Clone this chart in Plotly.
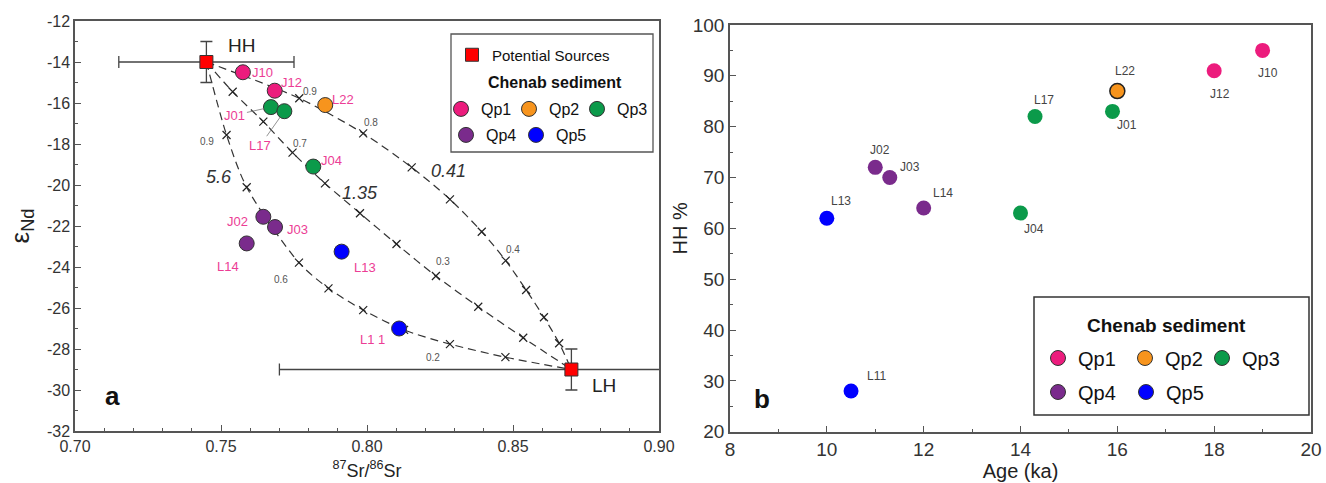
import plotly.graph_objects as go

# ---------------- data ----------------
groups = ["Qp1", "Qp2", "Qp3", "Qp4", "Qp5"]
group_colors = ["#ec1c7d", "#f7941d", "#0b9a4a", "#7a2b8c", "#0000ff"]

# potential sources (panel a)
src_names = ["HH", "LH"]
src_sr = [0.745, 0.870]
src_nd = [-14.0, -29.0]
src_sr_err = [0.03, 0.10]
src_nd_err = [1.0, 1.0]

# Chenab sediment samples
sample_ids = ["J10", "J12", "L22", "J01", "L17", "J04", "J02", "J03", "L14", "L13", "L11"]
sample_labels_a = ["J10", "J12", "L22", "J01", "L17", "J04", "J02", "J03", "L14", "L13", "L1 1"]
sample_group = ["Qp1", "Qp1", "Qp2", "Qp3", "Qp3", "Qp3", "Qp4", "Qp4", "Qp4", "Qp5", "Qp5"]
sample_sr = [0.7575, 0.7684, 0.7857, 0.7671, 0.7717, 0.7816, 0.7645, 0.7685, 0.7588, 0.7913, 0.8110]
sample_nd = [-14.5, -15.4, -16.1, -16.2, -16.4, -19.1, -21.55, -22.05, -22.85, -23.25, -27.0]
sample_age = [19.0, 18.0, 16.0, 15.9, 14.3, 14.0, 11.0, 11.3, 12.0, 10.0, 10.5]
sample_hh = [95, 91, 87, 83, 82, 63, 72, 70, 64, 62, 28]

# mixing hyperbolae (cross marks, 0.9 -> 0.1 HH fraction)
curve_k = ["0.41", "1.35", "5.6"]
curve041_sr = [0.7768, 0.7987, 0.8153, 0.8284, 0.8393, 0.8475, 0.8545, 0.8606, 0.8658]
curve041_nd = [-15.77, -17.48, -19.14, -20.70, -22.28, -23.69, -25.12, -26.45, -27.72]
curve135_sr = [0.7540, 0.7645, 0.7745, 0.7856, 0.7976, 0.8101, 0.8236, 0.8381, 0.8535]
curve135_nd = [-15.45, -16.91, -18.42, -19.92, -21.38, -22.88, -24.44, -25.94, -27.45]
curve56_sr = [0.7519, 0.7588, 0.7767, 0.7868, 0.7987, 0.8127, 0.8284, 0.8474]
curve56_nd = [-17.56, -20.11, -23.79, -25.04, -26.10, -27.07, -27.76, -28.40]

# fraction labels along curves
frac_text = ["0.9", "0.8", "0.4", "0.7", "0.3", "0.9", "0.6", "0.2"]
frac_sr = [0.7805, 0.8014, 0.8501, 0.7771, 0.8261, 0.7451, 0.7705, 0.8227]
frac_nd = [-15.45, -16.96, -23.14, -17.97, -23.74, -17.89, -24.60, -28.42]
k_sr = [0.8278, 0.7976, 0.7493]
k_nd = [-19.32, -20.40, -19.60]

# tick labels
a_xticks = [0.70, 0.75, 0.80, 0.85, 0.90]
a_xticktext = ["0.70", "0.75", "0.80", "0.85", "0.90"]
a_yticks = [-12, -14, -16, -18, -20, -22, -24, -26, -28, -30, -32]
a_yticktext = ["-12", "-14", "-16", "-18", "-20", "-22", "-24", "-26", "-28", "-30", "-32"]

legend_title = "Chenab sediment"

# ---------------- styling ----------------
FONT = "Liberation Sans, Arial, sans-serif"
AX = "#555555"
LABEL_PINK = "#ec3d95"
W, H = 1326, 483

fig = go.Figure()

# mixing curves
curves = [(curve041_sr, curve041_nd), (curve135_sr, curve135_nd), (curve56_sr, curve56_nd)]
for csr, cnd in curves:
    fig.add_trace(go.Scatter(
        x=[src_sr[0]] + csr + [src_sr[1]], y=[src_nd[0]] + cnd + [src_nd[1]],
        mode="lines", line=dict(color="#333333", width=1.2, dash="8px,5px", shape="spline", smoothing=0.8),
        showlegend=False, hoverinfo="skip", xaxis="x", yaxis="y"))
    fig.add_trace(go.Scatter(
        x=csr, y=cnd, mode="markers",
        marker=dict(symbol="x-thin", size=8, line=dict(color="#222222", width=1.2)),
        showlegend=False, hoverinfo="skip", xaxis="x", yaxis="y"))

# sources
fig.add_trace(go.Scatter(
    x=src_sr, y=src_nd, mode="markers", text=src_names,
    marker=dict(symbol="square", size=13, color="#ff0000", line=dict(color="#333333", width=1)),
    error_x=dict(type="data", array=src_sr_err, color="#444444", thickness=1.3, width=6),
    error_y=dict(type="data", array=src_nd_err, color="#444444", thickness=1.3, width=6),
    showlegend=False, xaxis="x", yaxis="y"))

# samples, panel a and b
for g, c in zip(groups, group_colors):
    idx = [i for i, sg in enumerate(sample_group) if sg == g]
    fig.add_trace(go.Scatter(
        x=[sample_sr[i] for i in idx], y=[sample_nd[i] for i in idx], mode="markers",
        marker=dict(size=15, color=c, line=dict(color="#333333", width=1)),
        text=[sample_ids[i] for i in idx], showlegend=False, xaxis="x", yaxis="y"))
    fig.add_trace(go.Scatter(
        x=[sample_age[i] for i in idx], y=[sample_hh[i] for i in idx], mode="markers",
        marker=dict(size=15, color=c,
                    line=dict(color="#222222", width=1.5 if g == "Qp2" else 0)),
        text=[sample_ids[i] for i in idx], showlegend=False, xaxis="x2", yaxis="y2"))

# legend entries
fig.add_trace(go.Scatter(
    x=[None], y=[None], mode="markers", name="Potential Sources", legend="legend",
    marker=dict(symbol="square", size=13, color="#ff0000", line=dict(color="#333333", width=1))))
rows_a = {"legend2": ["Qp1", "Qp2", "Qp3"], "legend3": ["Qp4", "Qp5"]}
rows_b = {"legend4": ["Qp1", "Qp2", "Qp3"], "legend5": ["Qp4", "Qp5"]}
w_a = {"Qp1": 23, "Qp2": 23, "Qp3": 35, "Qp4": 25, "Qp5": 35}
w_b = {"Qp1": 42, "Qp2": 32, "Qp3": 40, "Qp4": 43, "Qp5": 40}
for rows, widths in ((rows_a, w_a), (rows_b, w_b)):
    for lg, members in rows.items():
        for g in members:
            c = group_colors[groups.index(g)]
            fig.add_trace(go.Scatter(
                x=[None], y=[None], mode="markers", name=g, legend=lg, legendwidth=widths[g],
                marker=dict(size=15, color=c, line=dict(color="#333333", width=1))))

# ---------------- annotations ----------------
ann = []
off_a = {"J10": (20, 0), "J12": (17, 8), "L22": (18, 6), "J04": (18, 6), "J02": (-26, -5),
         "J03": (22, -2), "L14": (-19, -23), "L13": (23, -16), "L11": (-27, -11)}
for i, sid in enumerate(sample_ids):
    if sid in off_a:
        dx, dy = off_a[sid]
        ann.append(dict(x=sample_sr[i], y=sample_nd[i], xref="x", yref="y", text=sample_labels_a[i],
                        showarrow=False, xshift=dx, yshift=dy,
                        font=dict(family=FONT, size=13, color=LABEL_PINK)))
lead_a = {"J01": (-36, 8), "L17": (-24, 34)}
for i, sid in enumerate(sample_ids):
    if sid in lead_a:
        dx, dy = lead_a[sid]
        ann.append(dict(x=sample_sr[i], y=sample_nd[i], xref="x", yref="y", text=sample_labels_a[i],
                        showarrow=True, arrowhead=0, arrowwidth=0.8, arrowcolor="#777777",
                        ax=dx, ay=dy, standoff=7,
                        font=dict(family=FONT, size=13, color=LABEL_PINK)))
off_b = {"J10": (5, -23), "J12": (6, -23), "L22": (8, 20), "J01": (15, -14), "L17": (9, 17),
         "J04": (13, -16), "J02": (5, 17), "J03": (20, 11), "L14": (19, 15), "L13": (14, 17),
         "L11": (25, 15)}
for i, sid in enumerate(sample_ids):
    dx, dy = off_b[sid]
    ann.append(dict(x=sample_age[i], y=sample_hh[i], xref="x2", yref="y2", text=sid,
                    showarrow=False, xshift=dx, yshift=dy,
                    font=dict(family=FONT, size=12, color="#444444")))
for t, xx, yy in zip(frac_text, frac_sr, frac_nd):
    ann.append(dict(x=xx, y=yy, xref="x", yref="y", text=t, showarrow=False,
                    font=dict(family=FONT, size=10, color="#555555")))
for t, xx, yy in zip(curve_k, k_sr, k_nd):
    ann.append(dict(x=xx, y=yy, xref="x", yref="y", text="<i>" + t + "</i>", showarrow=False,
                    font=dict(family=FONT, size=18, color="#333333")))
ann.append(dict(x=src_sr[0], y=src_nd[0], xref="x", yref="y", text="HH", showarrow=False,
                xshift=35, yshift=16, font=dict(family=FONT, size=19, color="#222222")))
ann.append(dict(x=src_sr[1], y=src_nd[1], xref="x", yref="y", text="LH", showarrow=False,
                xshift=33, yshift=-16, font=dict(family=FONT, size=19, color="#222222")))
ann.append(dict(x=0.064, y=0.085, xref="x domain", yref="y domain", text="<b>a</b>", showarrow=False,
                xanchor="center", yanchor="middle",
                font=dict(family=FONT, size=26, color="#111111")))
ann.append(dict(x=0.055, y=0.08, xref="x2 domain", yref="y2 domain", text="<b>b</b>", showarrow=False,
                xanchor="center", yanchor="middle",
                font=dict(family=FONT, size=26, color="#111111")))
# legend titles
ann.append(dict(x=555 / W, y=1 - 82 / H, xref="paper", yref="paper", text="<b>" + legend_title + "</b>",
                showarrow=False, xanchor="center", yanchor="middle",
                font=dict(family=FONT, size=16, color="#111111")))
ann.append(dict(x=1166 / W, y=1 - 325 / H, xref="paper", yref="paper", text="<b>" + legend_title + "</b>",
                showarrow=False, xanchor="center", yanchor="middle",
                font=dict(family=FONT, size=19, color="#111111")))

shapes = [
    dict(type="rect", xref="paper", yref="paper", x0=451 / W, x1=653 / W,
         y0=1 - 152 / H, y1=1 - 34 / H, line=dict(color="#555555", width=1.3), fillcolor="white", layer="below"),
    dict(type="rect", xref="paper", yref="paper", x0=1034 / W, x1=1309 / W,
         y0=1 - 415 / H, y1=1 - 297 / H, line=dict(color="#333333", width=1.5), fillcolor="white", layer="below"),
]

def lg(x, y, size, orient="h"):
    return dict(x=x, y=y, xanchor="left", yanchor="middle", orientation=orient,
                bgcolor="rgba(0,0,0,0)", borderwidth=0, tracegroupgap=0,
                font=dict(family=FONT, size=size, color="#111111"), itemwidth=30)

axis_common = dict(showline=True, mirror=True, linecolor=AX, linewidth=1.5, ticks="inside",
                   tickcolor=AX, ticklen=6, tickwidth=1, showgrid=False, zeroline=False,
                   automargin=False)
tf_a = dict(family=FONT, size=16, color="#333333")
tf_b = dict(family=FONT, size=19, color="#333333")

fig.update_layout(
    width=W, height=H, margin=dict(l=0, r=0, t=0, b=0, autoexpand=False),
    paper_bgcolor="white", plot_bgcolor="white",
    font=dict(family=FONT, color="#222222"),
    xaxis=dict(domain=[75 / W, 659 / W], range=[0.70, 0.90], tickvals=a_xticks, ticktext=a_xticktext,
               minor=dict(dtick=0.01, ticks="inside", ticklen=3, tickcolor=AX),
               title=dict(text="<sup>87</sup>Sr/<sup>86</sup>Sr", standoff=10,
                          font=dict(family=FONT, size=18, color="#222222")),
               anchor="y", tickfont=tf_a, **axis_common),
    yaxis=dict(domain=[1 - 431 / H, 1 - 21 / H], range=[-32, -12], tickvals=a_yticks, ticktext=a_yticktext,
               minor=dict(dtick=1, ticks="inside", ticklen=3, tickcolor=AX),
               title=dict(text="ε<sub>Nd</sub>", standoff=10,
                          font=dict(family=FONT, size=26, color="#222222")),
               anchor="x", tickfont=tf_a, **axis_common),
    xaxis2=dict(domain=[730 / W, 1311 / W], range=[8, 20], dtick=2,
                minor=dict(dtick=1, ticks="inside", ticklen=3, tickcolor=AX),
                title=dict(text="Age (ka)", standoff=4, font=dict(family=FONT, size=20, color="#222222")),
                anchor="y2", tickfont=tf_b, **axis_common),
    yaxis2=dict(domain=[1 - 431.7 / H, 1 - 25 / H], range=[20, 100], dtick=10,
                minor=dict(dtick=5, ticks="inside", ticklen=3, tickcolor=AX),
                title=dict(text="HH %", standoff=0, font=dict(family=FONT, size=20, color="#222222")),
                anchor="x2", tickfont=tf_b, **axis_common),
    legend=lg(452 / W, 1 - 55 / H, 15, orient="v"),
    legend2=lg(441 / W, 1 - 109 / H, 16),
    legend3=lg(446 / W, 1 - 135 / H, 16),
    legend4=lg(1038 / W, 1 - 358 / H, 20),
    legend5=lg(1038 / W, 1 - 392 / H, 20),
    annotations=ann, shapes=shapes,
)

fig.write_html("out.html", config={"displayModeBar": False},
               post_script="document.body.style.margin='0px';")
